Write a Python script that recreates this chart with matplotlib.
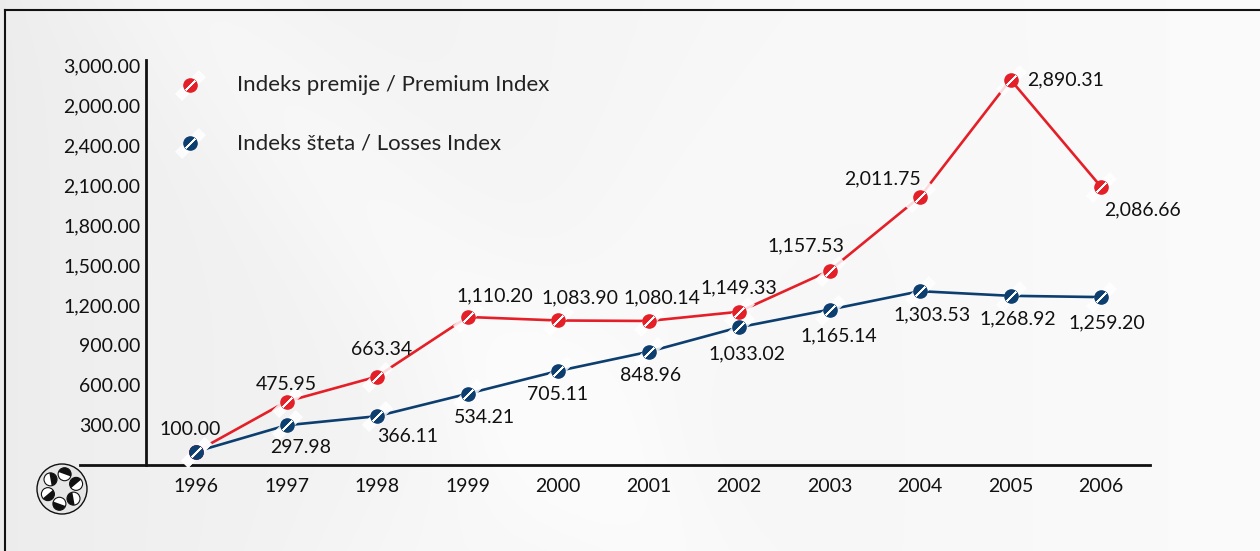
import numpy as np
import matplotlib
matplotlib.use('Agg')
import matplotlib.pyplot as plt
from matplotlib.patches import Circle, Wedge

plt.rcParams['font.family'] = ['Lato', 'DejaVu Sans']

# ---------------- data ----------------
years = ['1996', '1997', '1998', '1999', '2000', '2001', '2002', '2003', '2004', '2005', '2006']
premium = [100.00, 475.95, 663.34, 1110.20, 1083.90, 1080.14, 1149.33, 1457.53, 2011.75, 2890.31, 2086.66]
premium_labels = ['100.00', '475.95', '663.34', '1,110.20', '1,083.90', '1,080.14', '1,149.33',
                  '1,157.53', '2,011.75', '2,890.31', '2,086.66']
losses = [100.00, 297.98, 366.11, 534.21, 705.11, 848.96, 1033.02, 1165.14, 1303.53, 1268.92, 1259.20]
losses_labels = ['', '297.98', '366.11', '534.21', '705.11', '848.96', '1,033.02', '1,165.14',
                 '1,303.53', '1,268.92', '1,259.20']
ytick_values = [300, 600, 900, 1200, 1500, 1800, 2100, 2400, 2700, 3000]
ytick_labels = ['300.00', '600.00', '900.00', '1,200.00', '1,500.00', '1,800.00',
                '2,100.00', '2,400.00', '2,000.00', '3,000.00']
series_names = ['Indeks premije / Premium Index', 'Indeks šteta / Losses Index']

# ---------------- style / layout ----------------
RED = '#e41f28'
BLUE = '#0c3e6f'
W, H = 1260, 551
# label offsets in pixels (dx, dy up)
prem_off = [(-6, 22), (0, 17), (5, 27), (27, 21), (22, 23), (13, 23), (0, 24),
            (-24, 25), (-37, 18), (55, 0), (42, -23)]
loss_off = [(0, 0), (14, -22), (31, -20), (17, -24), (0, -24), (2, -24), (8, -27),
            (9, -26), (12, -24), (7, -23), (6, -26)]
LABEL_FS = 14

fig = plt.figure(figsize=(W / 100, H / 100), dpi=100)

# background axes in pixel coords
bg = fig.add_axes([0, 0, 1, 1])
bg.set_xlim(0, W)
bg.set_ylim(H, 0)
bg.axis('off')
yy, xx = np.mgrid[0:H, 0:W]
fade = 1.0 / (1.0 + np.exp((xx - 750) / 80.0))
grad = 0.925 + 0.058 * (xx / W) ** 0.6
grad += 0.02 * np.exp(-(((xx - 0.9 * yy) - 180) / 120.0) ** 2) * fade
grad += 0.015 * np.exp(-(((xx + 0.8 * yy) - 900) / 160.0) ** 2) * fade
grad = np.clip(grad, 0, 0.985)
bg.imshow(np.dstack([grad, grad, grad]), extent=(0, W, H, 0), aspect='auto', zorder=0)
# frame
bg.plot([5, W], [10, 10], color='#111111', lw=1.5, zorder=1)
bg.plot([5, 5], [10, H], color='#111111', lw=1.5, zorder=1)
# logo
cx, cy, R = 62, 489, 25
bg.add_patch(Circle((cx, cy), R, facecolor='#e6e6e6', edgecolor='#111111', lw=1.0, zorder=2))
for k in range(6):
    ang = np.deg2rad(80 - 60 * k)
    px, py = cx + 15 * np.cos(ang), cy - 15 * np.sin(ang)
    bg.add_patch(Circle((px, py), 6.5, facecolor='white', edgecolor='#111111', lw=0.8, zorder=3))
    bg.add_patch(Wedge((px, py), 6.5, 200 - 60 * k, 380 - 60 * k, facecolor='#111111',
                       edgecolor='none', zorder=4))

# main axes
x0px, x1px, ybase, ytop = 80, 1150, 465, 60
ax = fig.add_axes([x0px / W, 1 - ybase / H, (x1px - x0px) / W, (ybase - ytop) / H])
ax.patch.set_visible(False)
xs = np.arange(len(years))
first_px, step_px = 196, 90.5
ax.set_xlim((x0px - first_px) / step_px, (x1px - first_px) / step_px)
ax.set_ylim(0, (ybase - ytop) * 7.5)
for s in ['top', 'right']:
    ax.spines[s].set_visible(False)
ax.spines['left'].set_position(('data', (146 - first_px) / step_px))
ax.spines['left'].set_linewidth(2.0)
ax.spines['bottom'].set_linewidth(2.0)
ax.spines['left'].set_color('#111111')
ax.spines['bottom'].set_color('#111111')
ax.set_yticks(ytick_values, ytick_labels)
ax.set_xticks(xs, years)
ax.tick_params(axis='y', length=0, pad=4, labelsize=14, labelcolor='#111111')
ax.tick_params(axis='x', length=0, pad=9, labelsize=14, labelcolor='#111111')


def draw_marks(x, y, color, transform):
    ax.plot(x, y, ls='none', marker=(2, 2, -45), ms=24, mew=7, mec='white', alpha=0.85,
            zorder=3, transform=transform, clip_on=False)
    ax.plot(x, y, ls='none', marker='o', ms=9.5, mfc=color, mec=color, zorder=4,
            transform=transform, clip_on=False)
    ax.plot(x, y, ls='none', marker=(2, 2, -45), ms=9.5, mew=1.2, mec='white', zorder=5,
            transform=transform, clip_on=False)


ax.plot(xs, losses, color=BLUE, lw=1.9, zorder=2, clip_on=False)
ax.plot(xs, premium, color=RED, lw=1.9, zorder=2, clip_on=False)
draw_marks(xs, losses, BLUE, ax.transData)
draw_marks(xs, premium, RED, ax.transData)
# 1996 blue dot sits on top of the red one
ax.plot(xs[:1], losses[:1], ls='none', marker='o', ms=9.5, mfc=BLUE, mec=BLUE, zorder=4.5)
ax.plot(xs[:1], losses[:1], ls='none', marker=(2, 2, -45), ms=9.5, mew=1.2, mec='white', zorder=5)

for i in range(len(years)):
    ax.annotate(premium_labels[i], (xs[i], premium[i]), xytext=prem_off[i],
                textcoords='offset pixels', ha='center', va='center', fontsize=LABEL_FS,
                color='#111111', zorder=6, annotation_clip=False)
    if losses_labels[i]:
        ax.annotate(losses_labels[i], (xs[i], losses[i]), xytext=loss_off[i],
                    textcoords='offset pixels', ha='center', va='center', fontsize=LABEL_FS,
                    color='#111111', zorder=6, annotation_clip=False)

# legend (manual)
for (ly, name, col) in [(85, series_names[0], RED), (143, series_names[1], BLUE)]:
    fx = (190 - x0px) / (x1px - x0px)
    fy = (ybase - ly) / (ybase - ytop)
    draw_marks([fx], [fy], col, ax.transAxes)
    ax.text((237 - x0px) / (x1px - x0px), fy, name, transform=ax.transAxes, ha='left',
            va='center', fontsize=16, color='#222222')

fig.savefig('out.png', dpi=100)
